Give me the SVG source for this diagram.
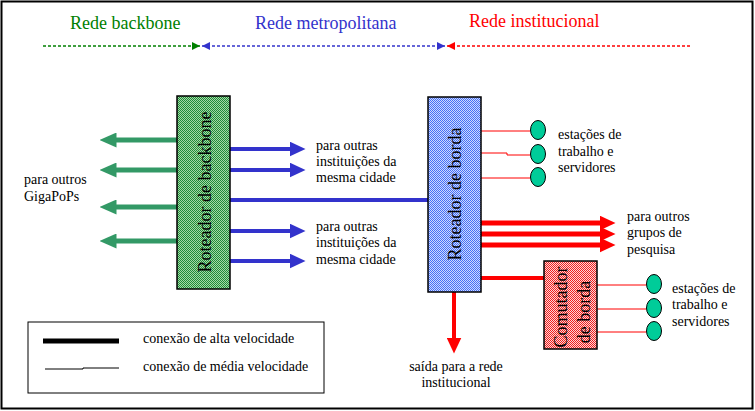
<svg xmlns="http://www.w3.org/2000/svg" width="755" height="411" viewBox="0 0 755 411">
<style>
text{font-family:"Liberation Serif","Times New Roman",serif;fill:#000}
.lbl{font-size:14px}
.hdr{font-size:18px}
.rot{font-size:18px;text-anchor:middle}
.box{stroke:#000;stroke-width:1.5}
.st{fill:#00cc99;stroke:#000;stroke-width:1}
.thin{stroke:#ff0000;stroke-width:1;fill:none}
.dash{stroke-width:1.3;stroke-dasharray:3 2;fill:none}
</style>
<defs>
<pattern id="pg" patternUnits="userSpaceOnUse" width="2" height="2"><rect width="2" height="2" fill="#a6d9a6"/><rect width="1" height="1" fill="#1f8a3a"/><rect x="1" y="1" width="1" height="1" fill="#1f8a3a"/></pattern>
<pattern id="pb" patternUnits="userSpaceOnUse" width="2" height="2"><rect width="2" height="2" fill="#cdd9ff"/><rect width="1" height="1" fill="#4570f5"/><rect x="1" y="1" width="1" height="1" fill="#4570f5"/></pattern>
<pattern id="pr" patternUnits="userSpaceOnUse" width="2" height="2"><rect width="2" height="2" fill="#ffd6d6"/><rect width="1" height="1" fill="#ee2020"/><rect x="1" y="1" width="1" height="1" fill="#ee2020"/></pattern>
<marker id="ag" markerUnits="userSpaceOnUse" markerWidth="17" markerHeight="15" refX="0.5" refY="7.5" orient="auto"><path d="M0,0 L17,7.5 L0,15 z" fill="#339966"/></marker>
<marker id="ab" markerUnits="userSpaceOnUse" markerWidth="16" markerHeight="15" refX="0.5" refY="7.5" orient="auto"><path d="M0,0 L16,7.5 L0,15 z" fill="#3333cc"/></marker>
<marker id="ar" markerUnits="userSpaceOnUse" markerWidth="16" markerHeight="15" refX="0.5" refY="7.5" orient="auto"><path d="M0,0 L16,7.5 L0,15 z" fill="#ff0000"/></marker>
<marker id="hg" markerUnits="userSpaceOnUse" markerWidth="8" markerHeight="8" refX="8" refY="4" orient="auto-start-reverse"><path d="M0,0 L8,4 L0,8 z" fill="#008000"/></marker>
<marker id="hb" markerUnits="userSpaceOnUse" markerWidth="8" markerHeight="8" refX="8" refY="4" orient="auto-start-reverse"><path d="M0,0 L8,4 L0,8 z" fill="#3333cc"/></marker>
<marker id="hr" markerUnits="userSpaceOnUse" markerWidth="8" markerHeight="8" refX="8" refY="4" orient="auto-start-reverse"><path d="M0,0 L8,4 L0,8 z" fill="#ff0000"/></marker>
</defs>
<rect x="1.5" y="1.5" width="751" height="407" fill="#fff" stroke="#000" stroke-width="2"/>

<g id="header">
<text class="hdr" x="70" y="29" style="fill:#008000">Rede backbone</text>
<text class="hdr" x="255" y="29" style="fill:#3333cc">Rede metropolitana</text>
<text class="hdr" x="469" y="27" style="fill:#ff0000">Rede institucional</text>
<line class="dash" x1="43" y1="46" x2="200" y2="46" stroke="#008000" marker-end="url(#hg)"/>
<line class="dash" x1="202" y1="46" x2="445" y2="46" stroke="#3333cc" marker-start="url(#hb)" marker-end="url(#hb)"/>
<line class="dash" x1="447" y1="46" x2="691" y2="46" stroke="#ff0000" marker-start="url(#hr)"/>
</g>

<g id="connectors">
<g stroke="#339966" stroke-width="5" marker-end="url(#ag)">
<line x1="177" y1="140" x2="116" y2="140"/>
<line x1="177" y1="170" x2="116" y2="170"/>
<line x1="177" y1="207" x2="116" y2="207"/>
<line x1="177" y1="241" x2="116" y2="241"/>
</g>
<g stroke="#3333cc" stroke-width="4" marker-end="url(#ab)">
<line x1="230" y1="149" x2="290" y2="149"/>
<line x1="230" y1="170" x2="290" y2="170"/>
<line x1="230" y1="231" x2="290" y2="231"/>
<line x1="230" y1="261" x2="290" y2="261"/>
</g>
<line x1="230" y1="200" x2="428" y2="200" stroke="#3333cc" stroke-width="4"/>
<g stroke="#ff0000" stroke-width="5" marker-end="url(#ar)">
<line x1="481" y1="223" x2="600" y2="223"/>
<line x1="481" y1="234" x2="600" y2="234"/>
<line x1="481" y1="245" x2="600" y2="245"/>
</g>
<line x1="454" y1="292" x2="454" y2="338" stroke="#ff0000" stroke-width="4" marker-end="url(#ar)"/>
<line x1="481" y1="278" x2="544" y2="278" stroke="#ff0000" stroke-width="4"/>
<path class="thin" d="M481 131 H530"/>
<path class="thin" d="M481 153 H507 V155 H530"/>
<path class="thin" d="M481 178 H530"/>
<path class="thin" d="M597 285 H646"/>
<path class="thin" d="M597 309 H646"/>
<path class="thin" d="M597 332 H646"/>
</g>

<g id="backbone-router">
<rect class="box" x="177" y="96" width="53" height="193" fill="url(#pg)"/>
<text class="rot" transform="translate(211 192) rotate(-90)">Roteador de backbone</text>
</g>

<g id="edge-router">
<rect class="box" x="428" y="97" width="53" height="195" fill="url(#pb)"/>
<text class="rot" transform="translate(461 194) rotate(-90)">Roteador de borda</text>
</g>

<g id="edge-switch">
<rect class="box" x="544" y="261" width="53" height="88" fill="url(#pr)"/>
<text class="rot" transform="translate(567 307) rotate(-90)">Comutador</text>
<text class="rot" transform="translate(590 312) rotate(-90)">de borda</text>
</g>

<g id="stations-router">
<ellipse class="st" cx="538" cy="130" rx="7.5" ry="9.5"/>
<ellipse class="st" cx="538" cy="154" rx="7.5" ry="9.5"/>
<ellipse class="st" cx="538" cy="177" rx="7.5" ry="9.5"/>
<text class="lbl" x="558" y="139">estações de</text>
<text class="lbl" x="558" y="156">trabalho e</text>
<text class="lbl" x="558" y="172">servidores</text>
</g>

<g id="stations-switch">
<ellipse class="st" cx="654" cy="284" rx="7.5" ry="9.5"/>
<ellipse class="st" cx="654" cy="308" rx="7.5" ry="9.5"/>
<ellipse class="st" cx="654" cy="331" rx="7.5" ry="9.5"/>
<text class="lbl" x="672" y="293">estações de</text>
<text class="lbl" x="672" y="309">trabalho e</text>
<text class="lbl" x="672" y="326">servidores</text>
</g>

<g id="labels">
<text class="lbl" x="24" y="184">para outros</text>
<text class="lbl" x="24" y="201">GigaPoPs</text>
<text class="lbl" x="316" y="150">para outras</text>
<text class="lbl" x="316" y="166">instituições da</text>
<text class="lbl" x="316" y="182">mesma cidade</text>
<text class="lbl" x="316" y="231">para outras</text>
<text class="lbl" x="316" y="247">instituições da</text>
<text class="lbl" x="316" y="264">mesma cidade</text>
<text class="lbl" x="627" y="221">para outros</text>
<text class="lbl" x="627" y="237">grupos de</text>
<text class="lbl" x="627" y="254">pesquisa</text>
<text class="lbl" x="456" y="371" text-anchor="middle">saída para a rede</text>
<text class="lbl" x="456" y="387" text-anchor="middle">institucional</text>
</g>

<g id="legend">
<rect x="28" y="322" width="296" height="71" fill="#fff" stroke="#000" stroke-width="1"/>
<line x1="43" y1="341" x2="119" y2="341" stroke="#000" stroke-width="5"/>
<path d="M45 369 H83 V368 H119" stroke="#000" stroke-width="1" fill="none"/>
<text class="lbl" x="143" y="343">conexão de alta velocidade</text>
<text class="lbl" x="143" y="371">conexão de média velocidade</text>
</g>
</svg>
